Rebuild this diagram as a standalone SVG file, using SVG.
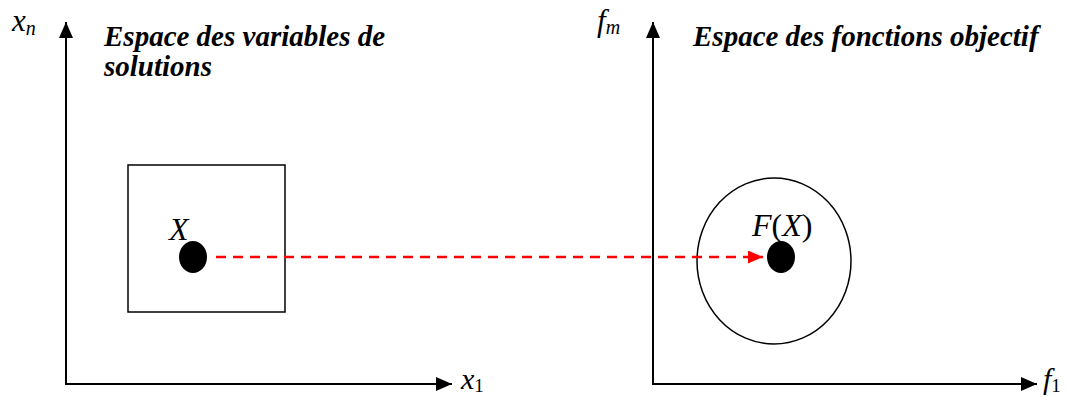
<svg xmlns="http://www.w3.org/2000/svg" width="1066" height="397" viewBox="0 0 1066 397">
<style>
.ax{stroke:#000;stroke-width:2;fill:none}
.t{font-family:"Liberation Serif","Times New Roman",serif;font-style:italic;fill:#000}
.h{font-family:"Liberation Serif","Times New Roman",serif;font-style:italic;font-weight:bold;font-size:29px;fill:#000}
.s{font-style:normal}
</style>
<defs>
<marker id="ahb" markerWidth="16" markerHeight="14" refX="16" refY="7" orient="auto" markerUnits="userSpaceOnUse" viewBox="0 0 16 14">
<path d="M0,0 L16,7 L0,14 z" fill="#000"/>
</marker>
<marker id="ahr" markerWidth="15" markerHeight="13" refX="15" refY="6.5" orient="auto" markerUnits="userSpaceOnUse" viewBox="0 0 15 13">
<path d="M0,0 L15,6.5 L0,13 z" fill="#f00"/>
</marker>
</defs>
<g id="axes-left">
<line class="ax" x1="66" y1="385" x2="66" y2="22" marker-end="url(#ahb)"/>
<line class="ax" x1="65" y1="384" x2="452" y2="384" marker-end="url(#ahb)"/>
<text class="t" x="12" y="31" font-size="31">x<tspan font-size="20" dy="4">n</tspan></text>
<text class="t" x="461" y="389" font-size="30">x<tspan class="s" font-size="19" dy="3">1</tspan></text>
<text class="h" x="104" y="46">Espace des variables de</text>
<text class="h" x="104" y="76">solutions</text>
</g>
<g id="axes-right">
<line class="ax" x1="653" y1="385" x2="653" y2="22" marker-end="url(#ahb)"/>
<line class="ax" x1="652" y1="384" x2="1037" y2="384" marker-end="url(#ahb)"/>
<text class="t" x="597" y="31" font-size="31">f<tspan font-size="20" dy="3">m</tspan></text>
<text class="t" x="1043" y="389" font-size="30">f<tspan class="s" font-size="19" dy="3">1</tspan></text>
<text class="h" x="693" y="46">Espace des fonctions objectif</text>
</g>
<g id="square">
<rect x="128" y="165" width="157" height="147" fill="none" stroke="#000" stroke-width="1.5"/>
</g>
<g id="point-x">
<ellipse cx="193" cy="257" rx="14" ry="16" fill="#000"/>
<text class="t" x="169" y="240" font-size="32">X</text>
</g>
<g id="circle">
<ellipse cx="774" cy="261" rx="77" ry="83" fill="none" stroke="#000" stroke-width="1.5"/>
</g>
<g id="point-fx">
<ellipse cx="781" cy="257" rx="14" ry="16" fill="#000"/>
<text class="t" x="752" y="236" font-size="32">F<tspan class="s">(</tspan>X<tspan class="s">)</tspan></text>
</g>
<g id="connectors">
<line x1="216" y1="257" x2="763" y2="257" stroke="#f00" stroke-width="2.5" stroke-dasharray="10,7" marker-end="url(#ahr)"/>
</g>
</svg>
